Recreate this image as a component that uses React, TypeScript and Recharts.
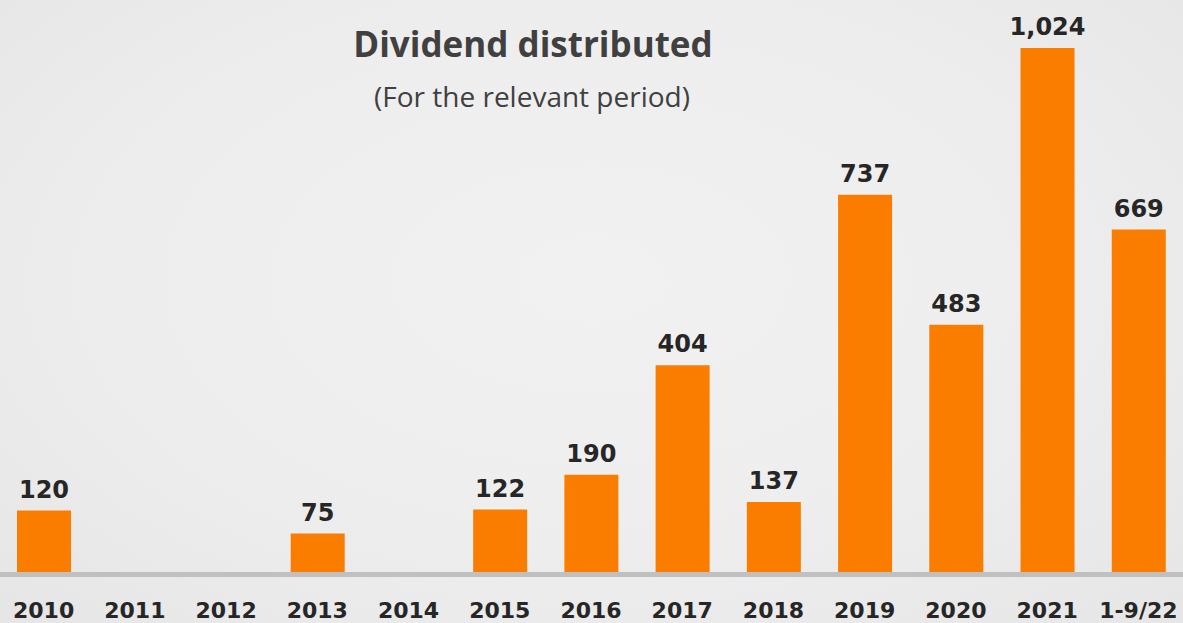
import { BarChart, Bar, XAxis, YAxis, LabelList } from "recharts";

const periods = [
  "2010", "2011", "2012", "2013", "2014", "2015", "2016",
  "2017", "2018", "2019", "2020", "2021", "1-9/22",
];
const dividends: (number | null)[] = [
  120, null, null, 75, null, 122, 190, 404, 137, 737, 483, 1024, 669,
];

const chartData = periods.map((period, i) => ({ period, dividend: dividends[i] }));

const labelFont = "'DejaVu Sans', Verdana, sans-serif";
const titleFont = "'Open Sans', Lato, sans-serif";

const PeriodTick = ({ x, y, payload }: any) => (
  <text
    x={x}
    y={y + 46}
    textAnchor="middle"
    fontFamily={labelFont}
    fontWeight="bold"
    fontSize={22}
    fill="#262626"
  >
    {payload.value === "1-9/22" ? "1‑9/22" : payload.value}
  </text>
);

const ValueLabel = ({ x, y, width, value }: any) => {
  if (value == null) return null;
  return (
    <text
      x={x + width / 2}
      y={y - 13}
      textAnchor="middle"
      fontFamily={labelFont}
      fontWeight="bold"
      fontSize={24}
      fill="#262626"
    >
      {Number(value).toLocaleString("en-US")}
    </text>
  );
};

export default function App() {
  return (
    <div
      style={{
        position: "absolute",
        left: 0,
        top: 0,
        width: 1183,
        height: 623,
        overflow: "hidden",
        background:
          "radial-gradient(ellipse at 50% 45%, #f1f1f1 0%, #eeeeee 50%, #e6e6e6 100%)",
      }}
    >
      <div
        style={{
          position: "absolute",
          left: 0,
          width: 1066,
          top: 22,
          textAlign: "center",
          fontFamily: titleFont,
          fontWeight: 700,
          fontSize: 35,
          lineHeight: "44px",
          color: "#404040",
        }}
      >
        Dividend distributed
      </div>
      <div
        style={{
          position: "absolute",
          left: 0,
          width: 1064,
          top: 80,
          textAlign: "center",
          fontFamily: titleFont,
          fontSize: 28,
          lineHeight: "32px",
          color: "#404040",
        }}
      >
        (For the relevant period)
      </div>
      <div style={{ position: "absolute", left: -2.5, top: 0 }}>
        <BarChart
          width={1186}
          height={623}
          data={chartData}
          margin={{ top: 9, right: 0, left: 0, bottom: 0 }}
          barCategoryGap={0}
        >
          <XAxis
            dataKey="period"
            height={51}
            interval={0}
            tickLine={false}
            tickSize={0}
            tickMargin={0}
            tick={<PeriodTick />}
            axisLine={{ stroke: "#c0c0c0", strokeWidth: 5, transform: "translate(0,2.5)" }}
          />
          <YAxis hide domain={[0, 1100]} />
          <Bar dataKey="dividend" fill="#fa7d00" barSize={54} isAnimationActive={false}>
            <LabelList dataKey="dividend" content={<ValueLabel />} />
          </Bar>
        </BarChart>
      </div>
    </div>
  );
}
